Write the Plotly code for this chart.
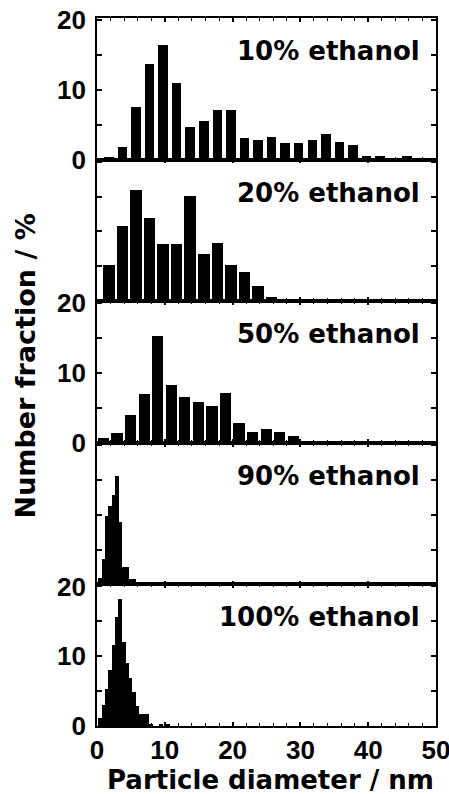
import plotly.graph_objects as go
from plotly.subplots import make_subplots

# ---- data ----
panel_labels = ["10% ethanol", "20% ethanol", "50% ethanol", "90% ethanol", "100% ethanol"]

x10 = [1.75, 3.75, 5.75, 7.75, 9.75, 11.75, 13.75, 15.75, 17.75, 19.75, 21.75, 23.75,
       25.75, 27.75, 29.75, 31.75, 33.75, 35.75, 37.75, 39.75, 41.75, 43.75, 45.75]
y10 = [0.4, 1.8, 7.5, 13.7, 16.5, 11.0, 4.7, 5.5, 7.1, 7.1, 3.1, 2.8,
       3.2, 2.4, 2.4, 2.8, 3.6, 2.5, 2.1, 0.5, 0.5, 0.0, 0.5]

x20 = [1.75, 3.75, 5.75, 7.75, 9.75, 11.75, 13.75, 15.75, 17.75, 19.75, 21.75, 23.75, 25.75]
y20 = [5.2, 10.9, 16.0, 12.0, 8.3, 8.3, 15.1, 6.8, 8.4, 5.3, 4.2, 2.2, 0.6]

x50 = [0.95, 2.95, 4.95, 6.95, 8.95, 10.95, 12.95, 14.95, 16.95, 18.95, 20.95, 22.95,
       24.95, 26.95, 28.95]
y50 = [0.7, 1.4, 4.0, 7.0, 15.3, 8.3, 6.5, 5.8, 5.2, 7.1, 2.8, 1.5, 2.0, 1.5, 0.9]

x90 = [0.45, 0.95, 1.45, 1.95, 2.45, 2.95, 3.45, 3.95, 4.45, 4.95, 5.45]
y90 = [1.0, 3.6, 9.8, 11.2, 12.8, 15.5, 9.0, 2.5, 2.5, 0.8, 0.8]

x100 = [0.45, 0.95, 1.45, 1.95, 2.45, 2.95, 3.45, 3.95, 4.45, 4.95, 5.45, 5.95,
        6.45, 6.95, 7.45, 7.95, 8.45, 8.95, 9.45, 9.95, 10.45]
y100 = [1.1, 3.0, 5.2, 8.0, 11.5, 15.5, 18.1, 12.0, 9.0, 6.8, 4.8, 2.8,
        1.6, 1.6, 1.6, 0.3, 0.0, 0.0, 0.3, 0.0, 0.3]

y_tickvals = [0, 5, 10, 15, 20]
y_ticktext = ["0", "", "10", "", "20"]
x_tickvals = [0, 10, 20, 30, 40, 50]

series = [(x10, y10, 1.4), (x20, y20, 1.7), (x50, y50, 1.65), (x90, y90, 0.56), (x100, y100, 0.56)]
labeled_rows = [1, 3, 5]

TEXT_FONT = dict(family="DejaVu Sans", size=26, color="black", weight="bold")
TICK_FONT = dict(family="Liberation Sans", size=26, color="black", weight="bold")

fig = make_subplots(rows=5, cols=1, shared_xaxes=True, vertical_spacing=0)

for i, (xs, ys, w) in enumerate(series):
    row = i + 1
    fig.add_trace(
        go.Bar(x=xs, y=ys, width=w,
               marker=dict(color="black", line=dict(width=0)),
               showlegend=False),
        row=row, col=1)
    fig.update_yaxes(
        range=[0, 20.3], tickmode="array", tickvals=y_tickvals,
        ticktext=y_ticktext if row in labeled_rows else [""] * 5,
        ticks="inside", ticklen=5, tickwidth=1.5, tickcolor="black",
        showline=True, linecolor="black", linewidth=1.6, mirror="ticks",
        showgrid=False, zeroline=False, tickfont=TICK_FONT,
        ticklabelstandoff=4,
        row=row, col=1)
    fig.update_xaxes(
        range=[0, 50], tickmode="array", tickvals=x_tickvals,
        showticklabels=(row == 5), ticklabeloverflow="allow",
        ticks="inside", ticklen=4, tickwidth=1.5, tickcolor="black",
        minor=dict(dtick=2, ticks="inside", ticklen=3, tickwidth=1, tickcolor="black"),
        showline=True, linecolor="black", linewidth=1.6, mirror="ticks",
        showgrid=False, zeroline=False, tickfont=TICK_FONT,
        row=row, col=1)
    ax = "" if row == 1 else str(row)
    fig.add_annotation(
        text=panel_labels[i], xref=f"x{ax} domain", yref=f"y{ax} domain",
        x=0.958, y=0.767, xanchor="right", yanchor="middle",
        showarrow=False, font=TEXT_FONT)

fig.add_annotation(text="Number fraction / %", xref="paper", yref="paper",
                   x=-0.212, y=0.508, xanchor="center", yanchor="middle",
                   textangle=-90, showarrow=False,
                   font=dict(family="DejaVu Sans", size=27, color="black", weight="bold"))
fig.add_annotation(text="Particle diameter / nm", xref="paper", yref="paper",
                   x=0.512, y=-0.076, xanchor="center", yanchor="middle",
                   showarrow=False, font=TEXT_FONT)

fig.update_layout(
    template="none",
    width=449, height=794,
    margin=dict(l=97, r=13, t=18, b=68, pad=0),
    paper_bgcolor="white", plot_bgcolor="white",
    bargap=0,
)

fig.write_html("out.html")
